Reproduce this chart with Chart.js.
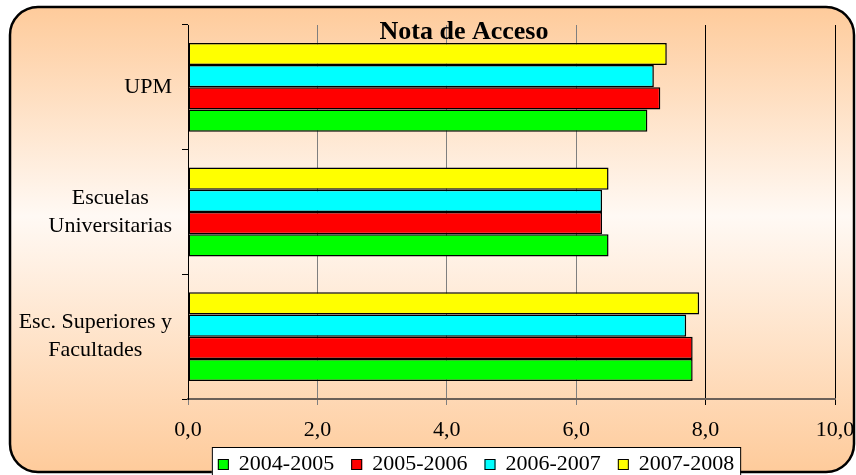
<!DOCTYPE html>
<html>
<head>
<meta charset="utf-8">
<script src="https://cdn.jsdelivr.net/npm/chart.js@4.4.1/dist/chart.umd.min.js"></script>
<style>
  html, body { margin: 0; padding: 0; background: #fff; }
  #wrap { width: 856px; height: 475px; }
</style>
</head>
<body>
<div id="wrap"><canvas id="chart"></canvas></div>
<script>
// data
const categories = [['UPM'], ['Escuelas', 'Universitarias'], ['Esc. Superiores y', 'Facultades']];
const seriesNames = ['2004-2005', '2005-2006', '2006-2007', '2007-2008'];
const values0405 = [7.1, 6.5, 7.8];
const values0506 = [7.3, 6.4, 7.8];
const values0607 = [7.2, 6.4, 7.7];
const values0708 = [7.4, 6.5, 7.9];
const xTicks = [0, 2, 4, 6, 8, 10];
const seriesColors = ['#00FF00', '#FF0000', '#00FFFF', '#FFFF00'];

const FONT = "'Liberation Serif', 'Times New Roman', serif";
const allValues = [values0405, values0506, values0607, values0708];

// Excel stacks the first series at the bottom, so feed them in reverse
const datasets = seriesNames.map((name, i) => ({
  label: name,
  data: allValues[i],
  backgroundColor: seriesColors[i],
  borderColor: '#000',
  borderWidth: 1.5,
  borderSkipped: false,
  barPercentage: 1,
  categoryPercentage: 0.713
})).reverse();

const frame = {
  id: 'frame',
  beforeDraw(chart) {
    const ctx = chart.ctx;
    ctx.save();
    ctx.fillStyle = '#fff';
    ctx.fillRect(0, 0, chart.width, chart.height);
    const x = 10, y = 7, w = 844, h = 465, r = 28;
    const g = ctx.createLinearGradient(0, y, 0, y + h);
    g.addColorStop(0, '#FECB9B');
    g.addColorStop(0.45, '#FFF9F4');
    g.addColorStop(1, '#FECB9B');
    ctx.beginPath();
    ctx.roundRect(x, y, w, h, r);
    ctx.fillStyle = g;
    ctx.fill();
    ctx.lineWidth = 2.5;
    ctx.strokeStyle = '#000';
    ctx.stroke();
    ctx.restore();
  },
  afterDraw(chart) {
    const ctx = chart.ctx;
    const yScale = chart.scales.y;
    ctx.save();

    // title
    ctx.font = 'bold 26px ' + FONT;
    ctx.fillStyle = '#000';
    ctx.textAlign = 'center';
    ctx.textBaseline = 'alphabetic';
    ctx.fillText('Nota de Acceso', 464, 39);

    // category labels: block right aligned, lines centred inside it
    ctx.font = '22px ' + FONT;
    ctx.textBaseline = 'middle';
    const lineH = 28;
    categories.forEach((lines, i) => {
      const cy = yScale.getPixelForValue(i);
      const maxW = Math.max(...lines.map(l => ctx.measureText(l).width));
      const cx = 172 - maxW / 2;
      lines.forEach((l, j) => {
        ctx.fillText(l, cx, cy + (j - (lines.length - 1) / 2) * lineH);
      });
    });

    // legend
    ctx.font = '22px ' + FONT;
    const sq = 11, gapIn = 10, gapOut = 17, pad = 6;
    const textW = seriesNames.map(n => ctx.measureText(n).width);
    const total = pad * 2 + textW.reduce((a, b) => a + b, 0) + seriesNames.length * (sq + gapIn) + (seriesNames.length - 1) * gapOut;
    const lx = 476 - total / 2, ly = 447;
    ctx.fillStyle = '#fff';
    ctx.fillRect(lx, ly, total, 40);
    ctx.lineWidth = 1;
    ctx.strokeStyle = '#000';
    ctx.strokeRect(lx + 0.5, ly + 0.5, total, 40);
    let px = lx + pad;
    ctx.textAlign = 'left';
    ctx.textBaseline = 'alphabetic';
    seriesNames.forEach((n, i) => {
      ctx.fillStyle = seriesColors[i];
      ctx.fillRect(px, 459, sq, sq);
      ctx.strokeRect(px + 0.5, 459.5, sq - 1, sq - 1);
      px += sq + gapIn;
      ctx.fillStyle = '#000';
      ctx.fillText(n, px, 470);
      px += textW[i] + gapOut;
    });
    ctx.restore();
  }
};

new Chart(document.getElementById('chart'), {
  type: 'bar',
  data: {
    labels: categories.map(c => c.join(' ')),
    datasets: datasets
  },
  options: {
    indexAxis: 'y',
    responsive: true,
    maintainAspectRatio: false,
    animation: false,
    layout: { padding: { left: 0, top: 25, right: 21, bottom: 0 } },
    plugins: {
      legend: { display: false },
      title: { display: false },
      tooltip: { enabled: false }
    },
    scales: {
      x: {
        min: 0,
        max: 10,
        afterBuildTicks(scale) {
          scale.ticks = xTicks.map(v => ({ value: v }));
        },
        afterFit(scale) {
          scale.height = 76;
          scale.paddingRight = 0;
          scale.paddingLeft = 0;
        },
        ticks: {
          color: '#000',
          padding: 12,
          font: { family: FONT, size: 22 },
          callback: v => v.toFixed(1).replace('.', ',')
        },
        grid: {
          color: c => (c.tick && c.tick.value >= 8 ? '#000' : '#7f7f7f'),
          lineWidth: 1,
          tickLength: 6
        },
        border: { color: '#6b6058', width: 2 }
      },
      y: {
        afterFit(scale) { scale.width = 188; },
        ticks: { display: false },
        grid: {
          drawOnChartArea: false,
          color: '#000',
          tickLength: 6
        },
        border: { color: '#000', width: 1 }
      }
    }
  },
  plugins: [frame]
});
</script>
</body>
</html>
